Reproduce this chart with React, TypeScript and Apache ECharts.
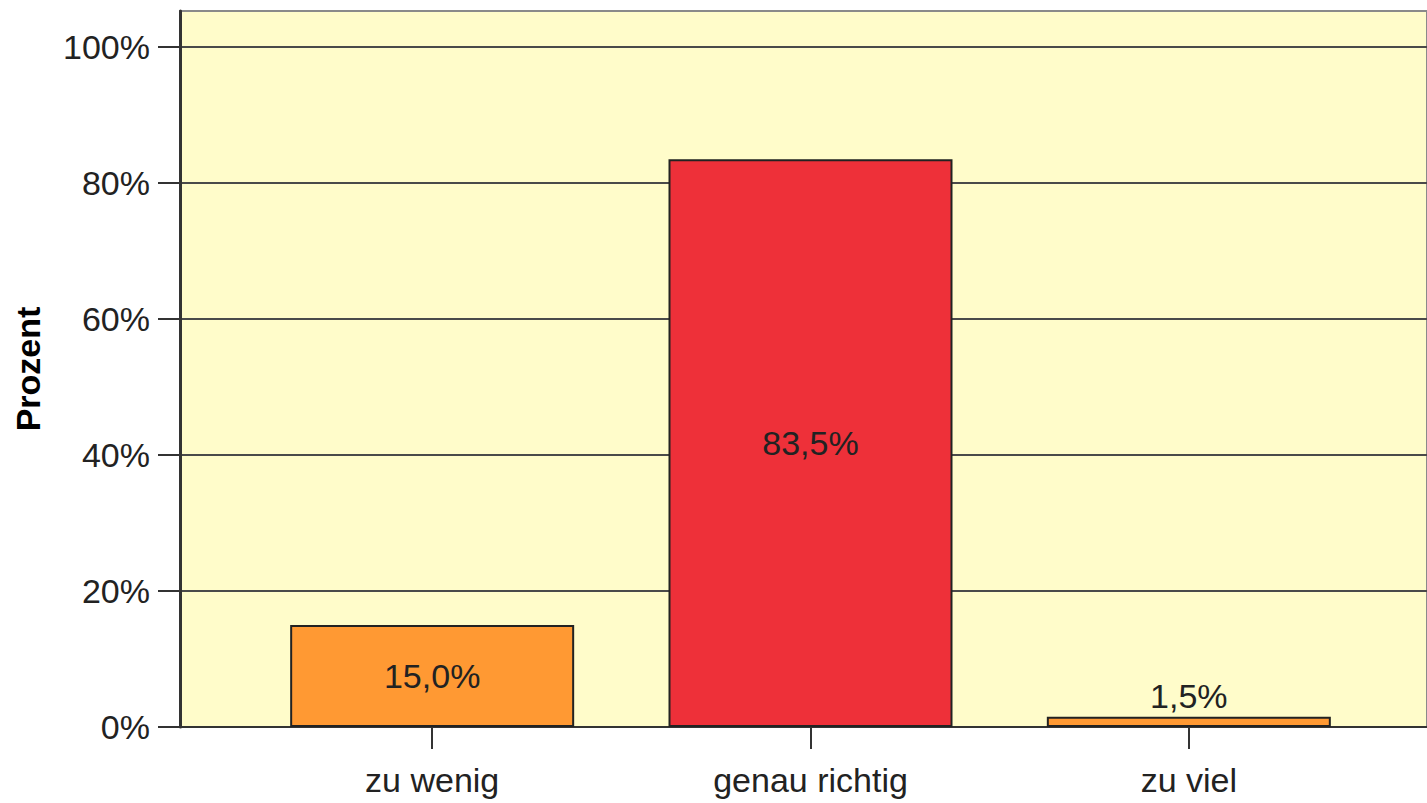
import React, { useEffect, useRef } from "react";
import * as echarts from "echarts";

const categories = ["zu wenig", "genau richtig", "zu viel"];
const percentValues = [15.0, 83.5, 1.5];
const barColors = ["#FF9933", "#EE3039", "#FF9933"];
const labelPositions = ["inside", "inside", "top"];

const FONT = "'Liberation Sans', Arial, sans-serif";

export default function App() {
  const ref = useRef<HTMLDivElement>(null);
  useEffect(() => {
    if (!ref.current) return;
    const chart = echarts.init(ref.current, undefined, { renderer: "svg" });
    const fmt = (v: number) => v.toFixed(1).replace(".", ",") + "%";
    chart.setOption({
      animation: false,
      backgroundColor: "#ffffff",
      grid: [
        // background frame
        {
          left: 180,
          top: 11,
          width: 1261,
          height: 716,
          show: true,
          backgroundColor: "#FFFCCA",
          borderColor: "#8a8a8a",
          borderWidth: 2,
        },
        // bars
        { left: 243, top: 47, width: 1135, height: 680 },
        // value scale with grid lines
        { left: 180, top: 47, width: 1261, height: 680 },
      ],
      xAxis: [
        {
          gridIndex: 0,
          type: "category",
          data: [""],
          axisLine: { show: true, lineStyle: { color: "#333", width: 2 } },
          axisTick: { show: false },
          axisLabel: { show: false },
        },
        {
          gridIndex: 1,
          type: "category",
          data: categories,
          axisLine: { show: true, lineStyle: { color: "#333", width: 2 } },
          axisTick: { show: true, alignWithLabel: true, length: 22, lineStyle: { color: "#333", width: 2 } },
          axisLabel: { color: "#222", fontFamily: FONT, fontSize: 34, margin: 36 },
        },
        {
          gridIndex: 2,
          type: "category",
          data: [""],
          show: false,
        },
      ],
      yAxis: [
        {
          gridIndex: 0,
          type: "value",
          min: 0,
          max: 1,
          name: "Prozent",
          nameLocation: "middle",
          nameGap: 135,
          nameTextStyle: { color: "#000", fontFamily: FONT, fontSize: 34, fontWeight: "bold" },
          axisLine: { show: true, lineStyle: { color: "#333", width: 3 } },
          axisTick: { show: false },
          axisLabel: { show: false },
          splitLine: { show: false },
        },
        {
          gridIndex: 1,
          type: "value",
          min: 0,
          max: 100,
          interval: 20,
          show: false,
          splitLine: { show: false },
        },
        {
          gridIndex: 2,
          type: "value",
          min: 0,
          max: 100,
          interval: 20,
          axisLine: { show: false },
          axisTick: { show: true, length: 22, lineStyle: { color: "#333", width: 2 } },
          axisLabel: {
            color: "#222",
            fontFamily: FONT,
            fontSize: 34,
            margin: 30,
            formatter: (v: number) => v + "%",
          },
          splitLine: { show: true, lineStyle: { color: "#4a4a4a", width: 2 } },
        },
      ],
      series: [
        {
          type: "bar",
          xAxisIndex: 1,
          yAxisIndex: 1,
          barWidth: 284,
          z: 5,
          data: percentValues.map((v, i) => ({
            value: v,
            itemStyle: { color: barColors[i], borderColor: "#222", borderWidth: 2 },
            label: {
              show: true,
              position: labelPositions[i],
              distance: 4,
              formatter: () => fmt(v),
              color: "#222",
              fontFamily: FONT,
              fontSize: 34,
            },
          })),
        },
      ],
    });
    return () => chart.dispose();
  }, []);
  return (
    <div
      ref={ref}
      style={{ position: "fixed", left: 0, top: 0, width: 1427, height: 803 }}
    />
  );
}
